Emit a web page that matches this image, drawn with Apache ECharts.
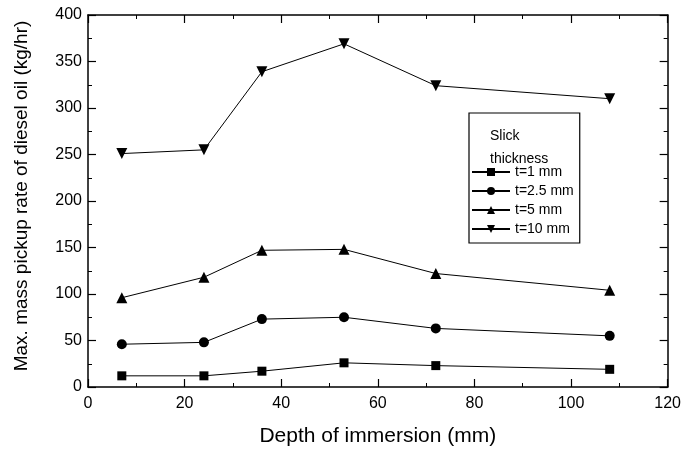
<!DOCTYPE html>
<html><head><meta charset="utf-8">
<script src="https://cdn.jsdelivr.net/npm/echarts@6/dist/echarts.min.js"></script>
<style>html,body{margin:0;padding:0;background:#fff}#c{width:684px;height:456px}</style>
</head><body><div id="c"></div>
<script>
const depth = [7, 24, 36, 53, 72, 108];
const t1 = [12, 12, 17, 26, 23, 19];
const t25 = [46, 48, 73, 75, 63, 55];
const t5 = [96, 118, 147, 148, 122, 104];
const t10 = [251, 255, 339, 369, 324, 310];
const names = ['t=1 mm', 't=2.5 mm', 't=5 mm', 't=10 mm'];
const values = [t1, t25, t5, t10];
const symbols = ['rect', 'circle', 'triangle', 'triangle'];
const rotations = [0, 0, 0, 180];

const font = 'Liberation Sans, Arial, sans-serif';
const chart = echarts.init(document.getElementById('c'));
const series = names.map((n, i) => ({
  name: n, type: 'line', xAxisIndex: 0, yAxisIndex: 0,
  data: depth.map((d, j) => [d, values[i][j]]),
  symbol: symbols[i], symbolRotate: rotations[i], symbolSize: i === 0 ? 9 : (i === 1 ? 10 : 11),
  lineStyle: {color: '#000', width: 1},
  itemStyle: {color: '#000'},
  emphasis: {disabled: true}
}));
function ax(extra) {
  return Object.assign({
    axisLine: {show: true, onZero: false, lineStyle: {color: '#000', width: 1.5}},
    axisTick: {show: true, inside: true, length: 8, lineStyle: {color: '#000', width: 1.2}},
    minorTick: {show: true, splitNumber: 2, length: 4, lineStyle: {color: '#000', width: 1}},
    splitLine: {show: false}
  }, extra);
}
chart.setOption({
  animation: false,
  backgroundColor: '#fff',
  grid: {left: 88, right: 14, top: 15, bottom: 69},
  xAxis: [
    ax({type: 'value', min: 0, max: 120, interval: 20, position: 'bottom',
      name: 'Depth of immersion (mm)', nameLocation: 'middle', nameGap: 39,
      nameTextStyle: {fontFamily: font, fontSize: 21, color: '#000'},
      axisLabel: {fontFamily: font, fontSize: 16, color: '#000', margin: 9}}),
    ax({type: 'value', min: 0, max: 120, interval: 20, position: 'top',
      axisLabel: {show: false}})
  ],
  yAxis: [
    ax({type: 'value', min: 0, max: 400, interval: 50, position: 'left',
      name: 'Max. mass pickup rate of diesel oil (kg/hr)', nameLocation: 'middle', nameGap: 57,
      nameTextStyle: {fontFamily: font, fontSize: 19, color: '#000', padding: [0, 0, 0, 10]},
      axisLabel: {fontFamily: font, fontSize: 16, color: '#000', margin: 6}}),
    ax({type: 'value', min: 0, max: 400, interval: 50, position: 'right',
      axisLabel: {show: false}})
  ],
  legend: {
    orient: 'vertical', left: 469, top: 113,
    padding: [52, 6, 7, 2], itemGap: 5, itemWidth: 38, itemHeight: 10,
    borderColor: '#000', borderWidth: 1.2, borderRadius: 0,
    textStyle: {fontFamily: font, fontSize: 14, color: '#000'},
    data: names
  },
  graphic: [{
    type: 'text', left: 490, top: 125,
    style: {text: 'Slick\nthickness', fontFamily: font, fontSize: 14, fill: '#000', lineHeight: 23}
  }],
  series: series
});
</script></body></html>
